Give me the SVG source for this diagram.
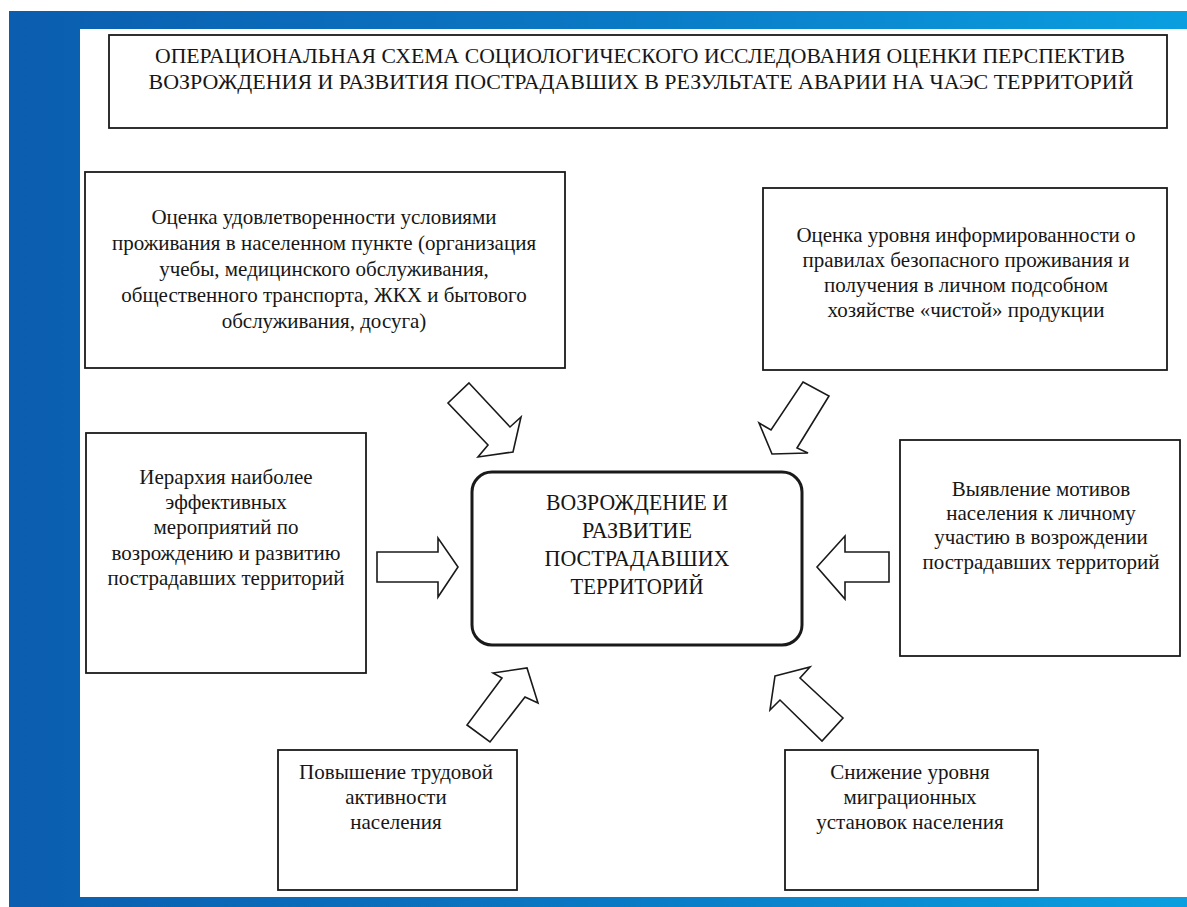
<svg xmlns="http://www.w3.org/2000/svg" width="1187" height="907" viewBox="0 0 1187 907">
<defs>
<linearGradient id="bg" x1="0" y1="0" x2="1" y2="0">
<stop offset="0" stop-color="#0b5daf"/>
<stop offset="0.5" stop-color="#0a78c4"/>
<stop offset="1" stop-color="#0a9fe0"/>
</linearGradient>
<style>
.box{fill:#fff;stroke:#1a1a1a;stroke-width:1.8}
.center{fill:#fff;stroke:#1a1a1a;stroke-width:3}
.arrow{fill:#fff;stroke:#1a1a1a;stroke-width:1.6;stroke-linejoin:miter}
text{font-family:'Liberation Serif','Times New Roman','Noto Serif','DejaVu Serif',serif;fill:#161616;text-anchor:middle}
.t{font-size:21px}
.cap{font-size:24px}
.ttl{font-size:22px}
</style>
</defs>
<rect x="0" y="0" width="1187" height="907" fill="#fff"/>
<rect x="9" y="11" width="1178" height="896" fill="url(#bg)"/>
<rect x="80" y="29" width="1107" height="868" fill="#fff"/>

<g id="title">
<rect class="box" x="109" y="35" width="1058" height="93"/>
<text class="ttl" x="640" y="63" textLength="970" lengthAdjust="spacingAndGlyphs">ОПЕРАЦИОНАЛЬНАЯ СХЕМА СОЦИОЛОГИЧЕСКОГО ИССЛЕДОВАНИЯ ОЦЕНКИ ПЕРСПЕКТИВ</text>
<text class="ttl" x="641" y="89" textLength="985" lengthAdjust="spacingAndGlyphs">ВОЗРОЖДЕНИЯ И РАЗВИТИЯ ПОСТРАДАВШИХ В РЕЗУЛЬТАТЕ АВАРИИ НА ЧАЭС ТЕРРИТОРИЙ</text>
</g>

<g id="node-living">
<rect class="box" x="85" y="172" width="480" height="196"/>
<text class="t" x="324" y="224">Оценка удовлетворенности условиями</text>
<text class="t" x="324" y="250">проживания в населенном пункте (организация</text>
<text class="t" x="324" y="276">учебы, медицинского обслуживания,</text>
<text class="t" x="324" y="302">общественного транспорта, ЖКХ и бытового</text>
<text class="t" x="324" y="328">обслуживания, досуга)</text>
</g>

<g id="node-info">
<rect class="box" x="763" y="188" width="404" height="182"/>
<text class="t" x="966" y="242">Оценка уровня информированности о</text>
<text class="t" x="966" y="267">правилах  безопасного проживания и</text>
<text class="t" x="966" y="292">получения в личном подсобном</text>
<text class="t" x="966" y="317">хозяйстве «чистой» продукции</text>
</g>

<g id="node-hierarchy">
<rect class="box" x="86" y="433" width="280" height="240"/>
<text class="t" x="226" y="484">Иерархия наиболее</text>
<text class="t" x="226" y="509">эффективных</text>
<text class="t" x="226" y="534">мероприятий по</text>
<text class="t" x="226" y="560">возрождению и развитию</text>
<text class="t" x="226" y="585">пострадавших территорий</text>
</g>

<g id="node-motives">
<rect class="box" x="900" y="440" width="280" height="216"/>
<text class="t" x="1041" y="496">Выявление мотивов</text>
<text class="t" x="1041" y="520">населения к личному</text>
<text class="t" x="1041" y="544">участию в возрождении</text>
<text class="t" x="1041" y="569">пострадавших территорий</text>
</g>

<g id="node-labor">
<rect class="box" x="278" y="750" width="239" height="140"/>
<text class="t" x="396" y="779">Повышение трудовой</text>
<text class="t" x="396" y="804">активности</text>
<text class="t" x="396" y="829">населения</text>
</g>

<g id="node-migration">
<rect class="box" x="785" y="750" width="253" height="140"/>
<text class="t" x="910" y="779">Снижение уровня</text>
<text class="t" x="910" y="804">миграционных</text>
<text class="t" x="910" y="829">установок населения</text>
</g>

<g id="node-center">
<rect class="center" x="472" y="472" width="330" height="173" rx="20" ry="20"/>
<text class="cap" x="637" y="510" textLength="182" lengthAdjust="spacingAndGlyphs">ВОЗРОЖДЕНИЕ И</text>
<text class="cap" x="637" y="538" textLength="110" lengthAdjust="spacingAndGlyphs">РАЗВИТИЕ</text>
<text class="cap" x="637" y="566" textLength="185" lengthAdjust="spacingAndGlyphs">ПОСТРАДАВШИХ</text>
<text class="cap" x="637" y="594" textLength="133" lengthAdjust="spacingAndGlyphs">ТЕРРИТОРИЙ</text>
</g>

<g id="connectors">
<polygon class="arrow" points="469,383 510,427 521,417 513,452 478,457 488,445 448,403"/>
<polygon class="arrow" points="803,382 829,396 797,448 808,453 772,454 759,423 771,430"/>
<polygon class="arrow" points="377,552 438,552 438,538 458,567 438,597 438,582 377,582"/>
<polygon class="arrow" points="889,552 845,552 845,536 817,567 845,599 845,582 889,582"/>
<polygon class="arrow" points="493,673 527,668 538,703 525,697 490,742 467,725 502,678"/>
<polygon class="arrow" points="775,676 810,667 800,678 843,718 822,741 780,700 770,710"/>
</g>
</svg>
